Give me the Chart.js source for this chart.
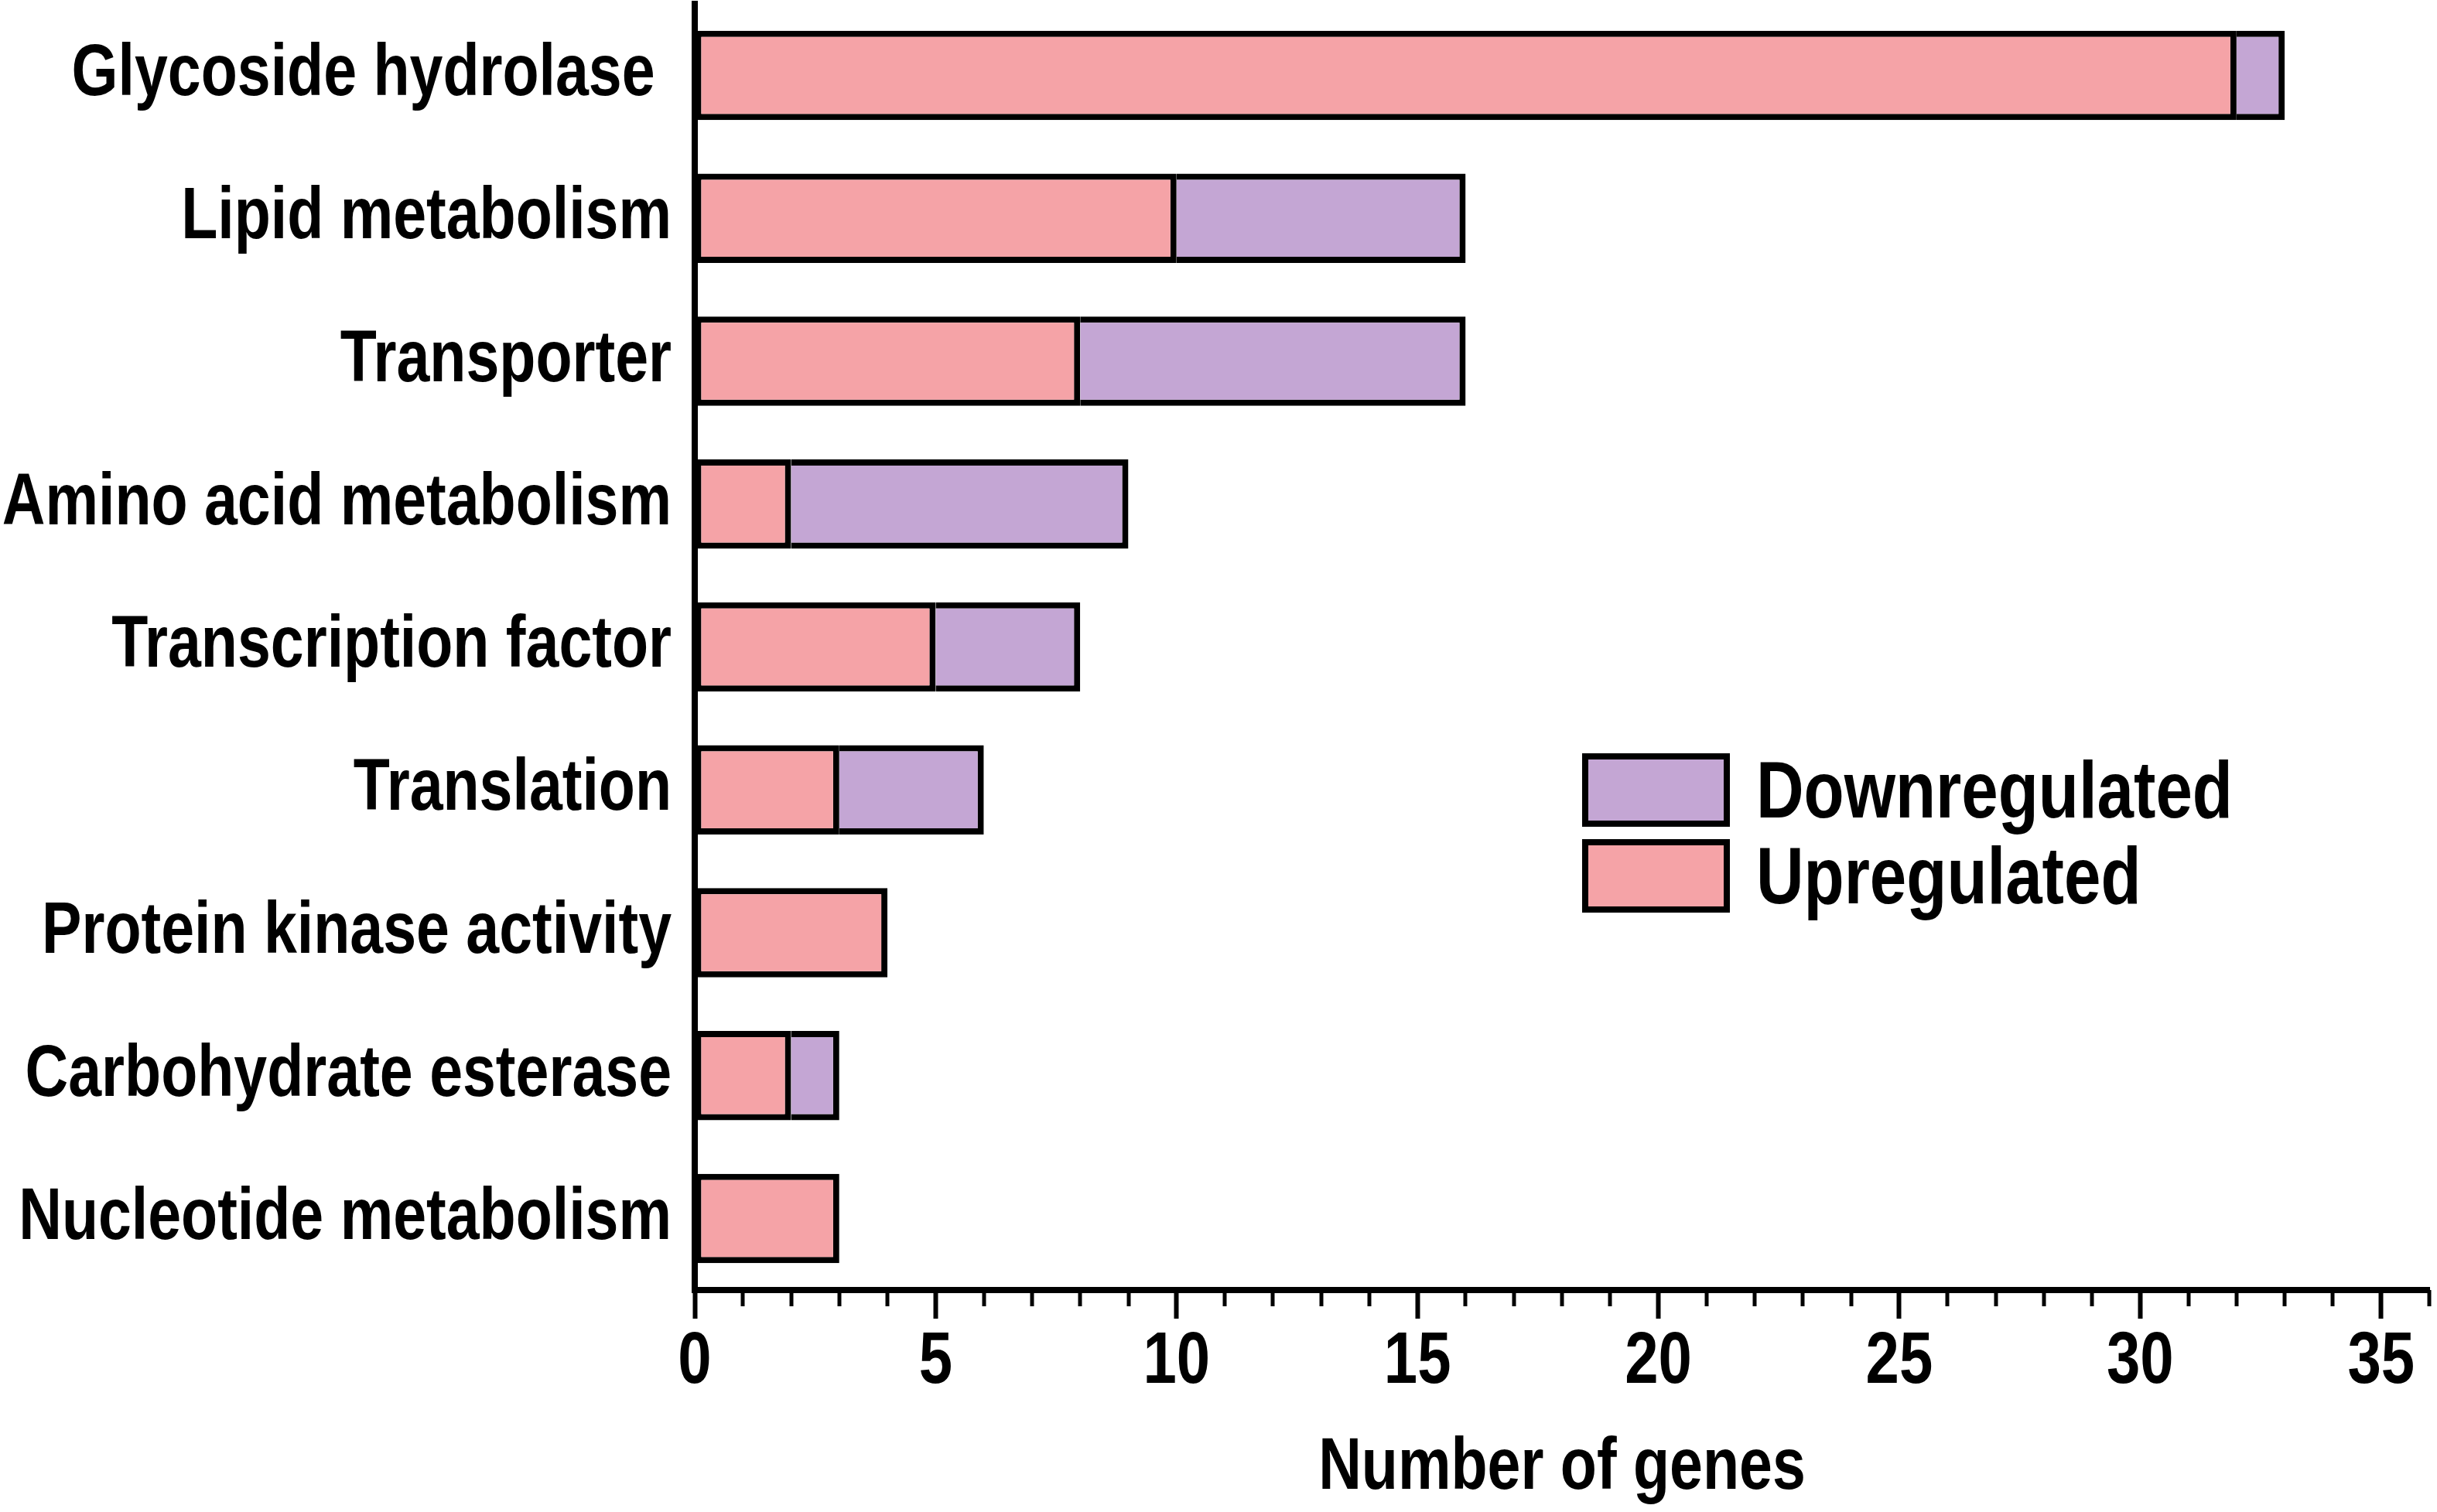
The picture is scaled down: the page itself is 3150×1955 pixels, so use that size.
<!doctype html>
<html lang="en">
<head>
    <meta charset="utf-8">
    <title>Number of genes</title>
    <script src="https://cdn.jsdelivr.net/npm/chart.js@4.4.0/dist/chart.umd.min.js"></script>
    <style>
        body { margin: 0; background: #fff; }
        #wrap { position: relative; width: 3150px; height: 1955px; }
        #legend { position: absolute; left: 2045px; top: 974px; font-family: "Liberation Sans", Arial, sans-serif; font-weight: bold; font-size: 104px; color: #000; }
        .item { display: flex; align-items: center; height: 95px; margin-bottom: 16px; }
        .box { box-sizing: border-box; width: 191px; height: 95px; border: 8px solid #000; margin-right: 34px; flex: none; }
        .txt { display: inline-block; transform: scaleX(0.82); transform-origin: left center; white-space: nowrap; }
    </style>
</head>
<body>
    <div id="wrap">
        <canvas id="myChart" width="3150" height="1955"></canvas>
        <div id="legend"></div>
    </div>
    <script>
        const categories = [
            "Glycoside hydrolase ",
            "Lipid metabolism",
            "Transporter",
            "Amino acid metabolism",
            "Transcription factor",
            "Translation",
            "Protein kinase activity",
            "Carbohydrate esterase",
            "Nucleotide metabolism"
        ];
        const upregulated = [32, 10, 8, 2, 5, 3, 4, 2, 3];
        const downregulated = [1, 6, 8, 7, 3, 3, 0, 1, 0];
        const xTicks = [0, 5, 10, 15, 20, 25, 30, 35];

        const pink = "#f5a3a7";
        const purple = "#c4a6d4";
        const fontFamily = '"Liberation Sans", Arial, sans-serif';
        const squeeze = 0.82; // the figure uses a narrow bold face

        const canvas = document.getElementById("myChart");
        const ctx = canvas.getContext("2d");
        const rawFillText = ctx.fillText.bind(ctx);
        ctx.fillText = function (text, x, y, maxWidth) {
            this.save();
            this.translate(x, y);
            this.scale(squeeze, 1);
            rawFillText(text, 0, 0, maxWidth);
            this.restore();
        };

        // short ticks at every unit that is not a labelled one
        const minorTicks = {
            id: 'minorTicks',
            afterDraw(chart) {
                const scale = chart.scales.x;
                const c = chart.ctx;
                const y0 = chart.chartArea.bottom;
                c.save();
                c.strokeStyle = "#000";
                c.lineWidth = 5;
                for (let v = scale.min; v <= scale.max; v++) {
                    if (xTicks.includes(v)) continue;
                    const x = Math.round(scale.getPixelForValue(v));
                    c.beginPath();
                    c.moveTo(x, y0);
                    c.lineTo(x, y0 + 21);
                    c.stroke();
                }
                c.restore();
            }
        };

        const data = {
            labels: categories,
            datasets: [
                {
                    label: 'Upregulated',
                    data: upregulated,
                    backgroundColor: pink,
                    borderColor: "#000",
                    borderWidth: 8,
                    borderSkipped: false,
                },
                {
                    label: 'Downregulated',
                    data: downregulated,
                    backgroundColor: purple,
                    borderColor: "#000",
                    borderWidth: 8,
                    borderSkipped: 'start',
                }
            ]
        };

        const config = {
            type: 'bar',
            data: data,
            plugins: [minorTicks],
            options: {
                indexAxis: 'y',
                responsive: false,
                animation: false,
                devicePixelRatio: 1,
                categoryPercentage: 1,
                barPercentage: 0.625,
                layout: { padding: { top: 5, right: 10, left: 0, bottom: 0 } },
                plugins: {
                    legend: { display: false },
                    tooltip: { enabled: false },
                },
                scales: {
                    x: {
                        stacked: true,
                        min: 0,
                        max: 36,
                        afterFit: s => { s.height = 287; s.paddingLeft = 0; s.paddingRight = 0; },
                        afterBuildTicks: s => {
                            s.ticks = xTicks.map(v => ({ value: v }));
                        },
                        grid: {
                            drawOnChartArea: false,
                            drawTicks: true,
                            tickLength: 37,
                            tickWidth: 6,
                            tickColor: "#000",
                        },
                        border: { display: true, color: "#000", width: 8 },
                        ticks: {
                            autoSkip: false,
                            maxRotation: 0,
                            padding: 0,
                            color: "#000",
                            font: { family: fontFamily, weight: 'bold', size: 95 },
                        },
                        title: {
                            display: true,
                            text: "Number of genes",
                            color: "#000",
                            padding: { top: 4, bottom: 0 },
                            font: { family: fontFamily, weight: 'bold', size: 94 },
                        }
                    },
                    y: {
                        stacked: true,
                        afterFit: s => { s.width = 898; s.paddingTop = 0; s.paddingBottom = 0; },
                        grid: { display: false },
                        border: { display: true, color: "#000", width: 8 },
                        ticks: {
                            padding: 22,
                            color: "#000",
                            font: { family: fontFamily, weight: 'bold', size: 94 },
                        }
                    }
                }
            }
        };

        const chart = new Chart(canvas, config);

        // legend: Downregulated listed first, as in the figure
        const legend = document.getElementById("legend");
        [...data.datasets].reverse().forEach(ds => {
            const item = document.createElement("div");
            item.className = "item";
            const box = document.createElement("span");
            box.className = "box";
            box.style.background = ds.backgroundColor;
            const txt = document.createElement("span");
            txt.className = "txt";
            txt.textContent = ds.label;
            item.appendChild(box);
            item.appendChild(txt);
            legend.appendChild(item);
        });
    </script>
</body>
</html>
